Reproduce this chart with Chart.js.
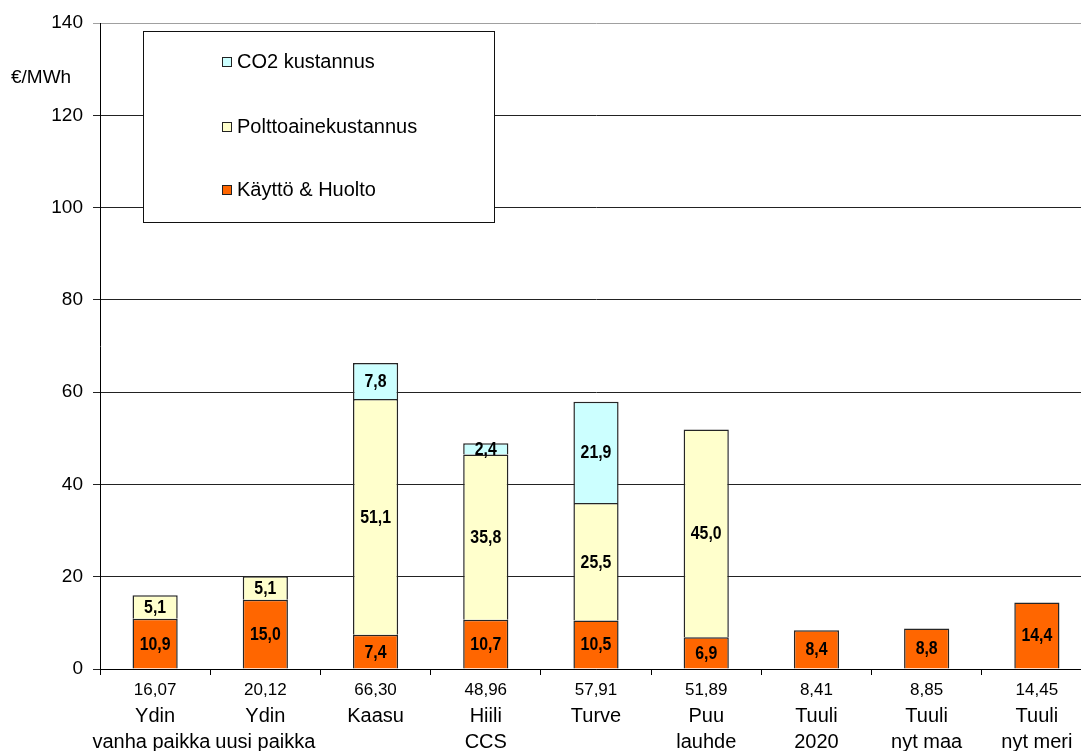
<!DOCTYPE html>
<html>
<head>
<meta charset="utf-8">
<script src="https://cdn.jsdelivr.net/npm/chart.js@4/dist/chart.umd.min.js"></script>
<style>
    body { margin: 0; overflow: hidden; background: #fff; }
    canvas { display: block; }
</style>
</head>
<body>
<canvas id="costChart" width="1092" height="751"></canvas>
<script>
// Categories: first line of the label is drawn under the total
const categories = [
    ['Ydin', 'vanha paikka'],
    ['Ydin', 'uusi paikka'],
    ['Kaasu'],
    ['Hiili', 'CCS'],
    ['Turve'],
    ['Puu', 'lauhde'],
    ['Tuuli', '2020'],
    ['Tuuli', 'nyt maa'],
    ['Tuuli', 'nyt meri']
];
const totals = [16.07, 20.12, 66.30, 48.96, 57.91, 51.89, 8.41, 8.85, 14.45];

// Series values (€/MWh)
const kayttoHuolto = [10.9, 15.0, 7.4, 10.7, 10.5, 6.9, 8.4, 8.8, 14.4];
const polttoaine = [5.1, 5.1, 51.1, 35.8, 25.5, 45.0, null, null, null];
const co2 = [null, null, 7.8, 2.4, 21.9, null, null, null, null];

const yTicks = [0, 20, 40, 60, 80, 100, 120, 140];

const FONT = '"Liberation Sans", Arial, sans-serif';

function fiNumber(v, digits) {
    return v.toFixed(digits).replace('.', ',');
}

// Values written in the middle of each bar segment
const segmentLabels = {
    id: 'segmentLabels',
    afterDatasetsDraw(chart) {
        const ctx = chart.ctx;
        ctx.save();
        ctx.fillStyle = '#000';
        ctx.textAlign = 'center';
        ctx.textBaseline = 'middle';
        ctx.font = 'bold 18px ' + FONT;
        chart.data.datasets.forEach((ds, di) => {
            const meta = chart.getDatasetMeta(di);
            meta.data.forEach((bar, i) => {
                const v = ds.data[i];
                if (v === null) return;
                const cy = (bar.y + bar.base) / 2;
                ctx.save();
                ctx.translate(bar.x, cy + 1);
                ctx.scale(0.88, 1);
                ctx.fillText(fiNumber(v, 1), 0, 0);
                ctx.restore();
            });
        });
        ctx.restore();
    }
};

// Totals and category names under the x axis
const categoryLabels = {
    id: 'categoryLabels',
    afterDraw(chart) {
        const ctx = chart.ctx;
        const xScale = chart.scales.x;
        ctx.save();
        ctx.fillStyle = '#000';
        ctx.textAlign = 'center';
        ctx.textBaseline = 'middle';
        const centers = categories.map((c, i) => xScale.getPixelForValue(i));

        ctx.font = '17px ' + FONT;
        totals.forEach((t, i) => ctx.fillText(fiNumber(t, 2), centers[i], 690));

        ctx.font = '20px ' + FONT;
        categories.forEach((lines, i) => ctx.fillText(lines[0], centers[i], 716));

        // second lines: a long name is pushed left when it would run into its neighbour
        categories.forEach((lines, i) => {
            if (lines.length < 2) return;
            let x = centers[i];
            const next = categories[i + 1];
            if (next && next.length > 1) {
                const right = x + ctx.measureText(lines[1]).width / 2;
                const nextLeft = centers[i + 1] - ctx.measureText(next[1]).width / 2;
                if (right > nextLeft - 5) x -= right - nextLeft + 5;
            }
            ctx.fillText(lines[1], x, 742);
        });
        ctx.restore();
    }
};

// Boxed legend inside the plot and the unit text
const boxLegend = {
    id: 'boxLegend',
    afterDraw(chart) {
        const ctx = chart.ctx;
        ctx.save();
        ctx.fillStyle = '#fff';
        ctx.fillRect(143, 31, 351, 191);
        ctx.strokeStyle = '#111';
        ctx.lineWidth = 1;
        ctx.strokeRect(143.5, 31.5, 351, 191);

        const rows = [62, 127, 190];
        const items = chart.data.datasets.slice().reverse();
        ctx.font = '20px ' + FONT;
        ctx.textBaseline = 'middle';
        items.forEach((ds, k) => {
            const y = rows[k];
            ctx.fillStyle = ds.backgroundColor;
            ctx.fillRect(222, y - 5, 10, 10);
            ctx.strokeStyle = '#222';
            ctx.strokeRect(222.5, y - 4.5, 9, 9);
            ctx.fillStyle = '#000';
            ctx.fillText(ds.label, 237, y);
        });

        ctx.font = '19px ' + FONT;
        ctx.fillText('€/MWh', 11, 78);
        ctx.restore();
    }
};

// bottom edge of each segment is left to the segment below (or the axis)
const barStyle = {
    borderColor: '#262626',
    borderWidth: 1.5,
    borderSkipped: 'start',
    barPercentage: 0.41,
    categoryPercentage: 1
};

new Chart(document.getElementById('costChart'), {
    type: 'bar',
    data: {
        labels: categories.map(c => c.join(' ')),
        datasets: [
            Object.assign({ label: 'Käyttö & Huolto', data: kayttoHuolto, backgroundColor: '#ff6600' }, barStyle),
            Object.assign({ label: 'Polttoainekustannus', data: polttoaine, backgroundColor: '#ffffcc' }, barStyle),
            Object.assign({ label: 'CO2 kustannus', data: co2, backgroundColor: '#ccffff' }, barStyle)
        ]
    },
    options: {
        responsive: false,
        animation: false,
        layout: { padding: { top: 23, right: 0, left: 0, bottom: 0 } },
        plugins: {
            legend: { display: false },
            tooltip: { enabled: false }
        },
        scales: {
            x: {
                stacked: true,
                border: { color: '#000', width: 1 },
                grid: { drawOnChartArea: false, drawTicks: true, tickLength: 6, color: '#000' },
                ticks: { display: false },
                afterFit(scale) { scale.height = 82; }
            },
            y: {
                stacked: true,
                min: 0,
                max: 140,
                border: { color: '#000', width: 1 },
                grid: {
                    color: ctx => (ctx.tick && ctx.tick.value === 140) ? '#a0a0a0' : '#222',
                    tickLength: 7
                },
                afterBuildTicks(scale) {
                    scale.ticks = yTicks.map(v => ({ value: v }));
                },
                ticks: {
                    color: '#000',
                    padding: 10,
                    font: { family: FONT, size: 19 }
                },
                afterFit(scale) { scale.width = 100; }
            }
        }
    },
    plugins: [segmentLabels, categoryLabels, boxLegend]
});
</script>
</body>
</html>
